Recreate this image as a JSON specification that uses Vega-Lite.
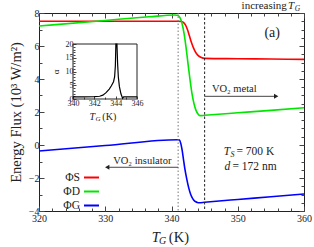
{
"$schema": "https://vega.github.io/schema/vega-lite/v6.json",
"width": 265, "height": 198,
"autosize": "none",
"padding": {"left": 39, "top": 13, "right": 10, "bottom": 36},
"config": {
  "font": "Liberation Serif",
  "view": {"stroke": "#222", "strokeWidth": 1},
  "axis": {"grid": false, "domain": false, "labelFont": "Liberation Serif", "titleFont": "Liberation Serif", "labelColor": "#222", "tickColor": "#444", "titleFontWeight": "normal", "titleColor": "#222", "labelOverlap": false, "labelBound": false, "labelFlush": false, "tickCount": 200, "format": "d"},
  "text": {"font": "Liberation Serif", "color": "#222"}
},
"datasets": {
  "flux": [
    {"T": 320, "F": 7.5, "s": "ΦS"}, {"T": 330, "F": 7.5, "s": "ΦS"}, {"T": 341, "F": 7.5, "s": "ΦS"}, {"T": 341.5, "F": 7.48, "s": "ΦS"}, {"T": 341.8, "F": 7.43, "s": "ΦS"}, {"T": 342.1, "F": 7.28, "s": "ΦS"}, {"T": 342.4, "F": 7.0, "s": "ΦS"}, {"T": 342.7, "F": 6.62, "s": "ΦS"}, {"T": 343.0, "F": 6.22, "s": "ΦS"}, {"T": 343.3, "F": 5.9, "s": "ΦS"}, {"T": 343.6, "F": 5.65, "s": "ΦS"}, {"T": 344.0, "F": 5.43, "s": "ΦS"}, {"T": 344.5, "F": 5.3, "s": "ΦS"}, {"T": 345, "F": 5.25, "s": "ΦS"}, {"T": 350, "F": 5.23, "s": "ΦS"}, {"T": 355, "F": 5.21, "s": "ΦS"}, {"T": 360, "F": 5.19, "s": "ΦS"},
    {"T": 320, "F": 7.21, "s": "ΦD"}, {"T": 330, "F": 7.55, "s": "ΦD"}, {"T": 336.6, "F": 7.77, "s": "ΦD"}, {"T": 340.5, "F": 7.88, "s": "ΦD"}, {"T": 341.0, "F": 7.85, "s": "ΦD"}, {"T": 341.3, "F": 7.7, "s": "ΦD"}, {"T": 341.6, "F": 7.35, "s": "ΦD"}, {"T": 341.9, "F": 6.75, "s": "ΦD"}, {"T": 342.2, "F": 5.9, "s": "ΦD"}, {"T": 342.5, "F": 4.9, "s": "ΦD"}, {"T": 342.8, "F": 3.95, "s": "ΦD"}, {"T": 343.1, "F": 3.1, "s": "ΦD"}, {"T": 343.4, "F": 2.5, "s": "ΦD"}, {"T": 343.7, "F": 2.1, "s": "ΦD"}, {"T": 344.0, "F": 1.88, "s": "ΦD"}, {"T": 344.3, "F": 1.78, "s": "ΦD"}, {"T": 345, "F": 1.8, "s": "ΦD"}, {"T": 350, "F": 1.95, "s": "ΦD"}, {"T": 355, "F": 2.1, "s": "ΦD"}, {"T": 360, "F": 2.26, "s": "ΦD"},
    {"T": 320, "F": -0.36, "s": "ΦG"}, {"T": 330, "F": -0.03, "s": "ΦG"}, {"T": 341, "F": 0.32, "s": "ΦG"}, {"T": 341.2, "F": 0.3, "s": "ΦG"}, {"T": 341.4, "F": 0.1, "s": "ΦG"}, {"T": 341.6, "F": -0.3, "s": "ΦG"}, {"T": 341.8, "F": -0.85, "s": "ΦG"}, {"T": 342.0, "F": -1.4, "s": "ΦG"}, {"T": 342.3, "F": -2.05, "s": "ΦG"}, {"T": 342.6, "F": -2.6, "s": "ΦG"}, {"T": 342.9, "F": -3.0, "s": "ΦG"}, {"T": 343.2, "F": -3.25, "s": "ΦG"}, {"T": 343.5, "F": -3.4, "s": "ΦG"}, {"T": 343.9, "F": -3.48, "s": "ΦG"}, {"T": 344.2, "F": -3.5, "s": "ΦG"}, {"T": 345, "F": -3.47, "s": "ΦG"}, {"T": 350, "F": -3.3, "s": "ΦG"}, {"T": 355, "F": -3.14, "s": "ΦG"}, {"T": 360, "F": -2.97, "s": "ΦG"}
  ],
  "alpha": [
    {"T": 340, "a": 0.8}, {"T": 341, "a": 0.8}, {"T": 342, "a": 0.85}, {"T": 342.5, "a": 1.0}, {"T": 342.8, "a": 1.4}, {"T": 343.1, "a": 2.3}, {"T": 343.4, "a": 3.6}, {"T": 343.6, "a": 4.8}, {"T": 343.8, "a": 6.3}, {"T": 343.9, "a": 8}, {"T": 343.97, "a": 12}, {"T": 344.02, "a": 20}, {"T": 344.12, "a": 20}, {"T": 344.18, "a": 13}, {"T": 344.25, "a": 8}, {"T": 344.35, "a": 4.5}, {"T": 344.5, "a": 1.8}, {"T": 344.65, "a": 0.3}, {"T": 344.75, "a": 0.8}, {"T": 346, "a": 0.8}
  ]
},
"layer": [
  {
    "layer": [
      {
        "data": {"name": "flux"},
        "mark": {"type": "line", "strokeWidth": 1.6, "interpolate": "monotone"},
        "encoding": {
          "x": {"field": "T", "type": "quantitative", "scale": {"domain": [320, 360], "nice": false, "zero": false},
                "axis": {"orient": "bottom", "title": null, "format": "d", "tickCount": 200, "labelOverlap": false, "labelFlush": false, "values": [320,322,324,326,328,330,332,334,336,338,340,342,344,346,348,350,352,354,356,358,360],
                         "labelExpr": "datum.value % 10 == 0 ? datum.label : ''", "labelFontSize": 10, "labelPadding": 7,
                         "tickSize": {"condition": {"test": "datum.value % 10 == 0", "value": -5}, "value": -3}}},
          "y": {"field": "F", "type": "quantitative", "scale": {"domain": [-4, 8], "nice": false, "zero": false},
                "axis": {"orient": "left", "title": "Energy Flux (10³ W/m²)", "titleFontSize": 14.5, "titlePadding": 5, "format": "d", "tickCount": 200, "labelOverlap": false, "labelFlush": false,
                         "values": [-4,-3.5,-3,-2.5,-2,-1.5,-1,-0.5,0,0.5,1,1.5,2,2.5,3,3.5,4,4.5,5,5.5,6,6.5,7,7.5,8],
                         "labelExpr": "datum.value % 2 == 0 ? datum.label : ''", "labelFontSize": 10, "labelPadding": 5,
                         "tickSize": {"condition": {"test": "datum.value % 2 == 0", "value": -5}, "value": -3}}},
          "color": {"field": "s", "type": "nominal", "scale": {"domain": ["ΦS", "ΦD", "ΦG"], "range": ["#ff0000", "#00e600", "#0000ff"]},
                    "legend": {"title": null, "orient": "none", "legendX": 44, "legendY": 156, "symbolType": "stroke", "symbolSize": 225, "symbolStrokeWidth": 2,
                               "labelAlign": "right", "labelOffset": -20, "labelFontSize": 11.5, "labelFont": "Liberation Serif", "labelColor": "#222", "rowPadding": -4.6, "padding": 0}}
        }
      },
      {"data": {"values": [{}]}, "mark": {"type": "rule", "color": "#777", "strokeDash": [1.5, 2], "strokeWidth": 1}, "encoding": {"x": {"datum": 341, "type": "quantitative"}}},
      {"data": {"values": [{}]}, "mark": {"type": "rule", "color": "#222", "strokeDash": [2.5, 2], "strokeWidth": 1}, "encoding": {"x": {"datum": 345, "type": "quantitative"}}},
      {"data": {"values": [{}]}, "mark": {"type": "rule", "color": "#444", "strokeWidth": 1}, "encoding": {"x": {"datum": 345, "type": "quantitative"}, "x2": {"datum": 355.7}, "y": {"datum": 2.95, "type": "quantitative"}}},
      {"data": {"values": [{}]}, "mark": {"type": "point", "shape": "triangle-right", "filled": true, "color": "#222", "size": 25, "opacity": 1}, "encoding": {"x": {"datum": 355.8, "type": "quantitative"}, "y": {"datum": 2.95, "type": "quantitative"}}},
      {"data": {"values": [{}]}, "mark": {"type": "rule", "color": "#444", "strokeWidth": 1}, "encoding": {"x": {"datum": 330.4, "type": "quantitative"}, "x2": {"datum": 341}, "y": {"datum": -1.35, "type": "quantitative"}}},
      {"data": {"values": [{}]}, "mark": {"type": "point", "shape": "triangle-left", "filled": true, "color": "#222", "size": 25, "opacity": 1}, "encoding": {"x": {"datum": 330.3, "type": "quantitative"}, "y": {"datum": -1.35, "type": "quantitative"}}},
      {"data": {"values": [{}]}, "mark": {"type": "text", "text": "VO₂ metal", "fontSize": 10.5, "align": "left"}, "encoding": {"x": {"datum": 346.1, "type": "quantitative"}, "y": {"datum": 3.4, "type": "quantitative"}}},
      {"data": {"values": [{}]}, "mark": {"type": "text", "text": "VO₂ insulator", "fontSize": 10.5, "align": "left"}, "encoding": {"x": {"datum": 331.2, "type": "quantitative"}, "y": {"datum": -0.95, "type": "quantitative"}}},
      {"data": {"values": [{}]}, "mark": {"type": "text", "text": "(a)", "fontSize": 14, "align": "center"}, "encoding": {"x": {"datum": 355.2, "type": "quantitative"}, "y": {"datum": 6.8, "type": "quantitative"}}},
      {"data": {"values": [{}]}, "mark": {"type": "text", "text": "T", "fontSize": 11.5, "fontStyle": "italic", "align": "left"}, "encoding": {"x": {"datum": 347.9, "type": "quantitative"}, "y": {"datum": -0.42, "type": "quantitative"}}},
      {"data": {"values": [{}]}, "mark": {"type": "text", "text": "S", "fontSize": 8, "fontStyle": "italic", "align": "left", "dy": 3}, "encoding": {"x": {"datum": 348.9, "type": "quantitative"}, "y": {"datum": -0.42, "type": "quantitative"}}},
      {"data": {"values": [{}]}, "mark": {"type": "text", "text": "= 700 K", "fontSize": 11.5, "align": "left"}, "encoding": {"x": {"datum": 349.8, "type": "quantitative"}, "y": {"datum": -0.42, "type": "quantitative"}}},
      {"data": {"values": [{}]}, "mark": {"type": "text", "text": "d", "fontSize": 11.5, "fontStyle": "italic", "align": "left"}, "encoding": {"x": {"datum": 348.0, "type": "quantitative"}, "y": {"datum": -1.33, "type": "quantitative"}}},
      {"data": {"values": [{}]}, "mark": {"type": "text", "text": "= 172 nm", "fontSize": 11.5, "align": "left"}, "encoding": {"x": {"datum": 349.2, "type": "quantitative"}, "y": {"datum": -1.33, "type": "quantitative"}}},
      {"data": {"values": [{}]}, "mark": {"type": "text", "text": "increasing", "fontSize": 11, "align": "right", "dy": -7.5}, "encoding": {"x": {"datum": 357.4, "type": "quantitative"}, "y": {"datum": 8, "type": "quantitative"}}},
      {"data": {"values": [{}]}, "mark": {"type": "text", "text": "T", "fontSize": 11, "fontStyle": "italic", "align": "left", "dy": -7.5}, "encoding": {"x": {"datum": 357.6, "type": "quantitative"}, "y": {"datum": 8, "type": "quantitative"}}},
      {"data": {"values": [{}]}, "mark": {"type": "text", "text": "G", "fontSize": 7.5, "fontStyle": "italic", "align": "left", "dy": -4.5}, "encoding": {"x": {"datum": 358.6, "type": "quantitative"}, "y": {"datum": 8, "type": "quantitative"}}},
      {"data": {"values": [{}]}, "mark": {"type": "text", "text": "T", "fontSize": 14.5, "fontStyle": "italic", "align": "left", "dy": 27}, "encoding": {"x": {"datum": 337.0, "type": "quantitative"}, "y": {"datum": -4, "type": "quantitative"}}},
      {"data": {"values": [{}]}, "mark": {"type": "text", "text": "G", "fontSize": 10, "fontStyle": "italic", "align": "left", "dy": 30}, "encoding": {"x": {"datum": 338.1, "type": "quantitative"}, "y": {"datum": -4, "type": "quantitative"}}},
      {"data": {"values": [{}]}, "mark": {"type": "text", "text": "(K)", "fontSize": 14.5, "align": "left", "dy": 27}, "encoding": {"x": {"datum": 339.6, "type": "quantitative"}, "y": {"datum": -4, "type": "quantitative"}}}
    ]
  },
  {
    "layer": [
      {"data": {"values": [{}]}, "mark": {"type": "rect", "fill": "white", "fillOpacity": 0, "stroke": "#222", "strokeWidth": 1},
       "encoding": {"x": {"datum": 340, "type": "quantitative", "scale": {"domain": [340, 346], "nice": false, "zero": false, "range": [34, 98]}}, "x2": {"datum": 346},
                    "y": {"datum": 0, "type": "quantitative", "scale": {"domain": [0, 20], "nice": false, "zero": false, "range": [86, 31]}}, "y2": {"datum": 20}}},
      {
        "data": {"name": "alpha"},
        "mark": {"type": "line", "color": "black", "strokeWidth": 1.2},
        "encoding": {
          "x": {"field": "T", "type": "quantitative", "scale": {"domain": [340, 346], "nice": false, "zero": false, "range": [34, 98]},
                "axis": {"orient": "bottom", "offset": -112, "title": null, "format": "d", "tickCount": 200, "labelOverlap": false, "labelFlush": false, "values": [340,340.5,341,341.5,342,342.5,343,343.5,344,344.5,345,345.5,346],
                         "labelExpr": "datum.value % 2 == 0 ? datum.label : ''", "labelFontSize": 8, "labelPadding": 3,
                         "tickSize": {"condition": {"test": "datum.value % 2 == 0", "value": -3}, "value": -2}}},
          "y": {"field": "a", "type": "quantitative", "scale": {"domain": [0, 20], "nice": false, "zero": false, "range": [86, 31]},
                "axis": {"orient": "left", "offset": -34, "title": "α", "titleFontSize": 9, "titlePadding": 5, "format": "d", "tickCount": 200, "labelOverlap": false, "labelFlush": false,
                         "values": [0,1,2,3,4,5,6,7,8,9,10,11,12,13,14,15,16,17,18,19,20],
                         "labelExpr": "datum.value % 5 == 0 ? datum.label : ''", "labelFontSize": 8, "labelPadding": 3,
                         "tickSize": {"condition": {"test": "datum.value % 5 == 0", "value": -3}, "value": -2}}}
        }
      },
      {"data": {"values": [{}]}, "mark": {"type": "text", "text": "T", "fontSize": 10, "fontStyle": "italic", "align": "left", "dy": 18}, "encoding": {"x": {"datum": 341.55, "type": "quantitative"}, "y": {"datum": 0, "type": "quantitative"}}},
      {"data": {"values": [{}]}, "mark": {"type": "text", "text": "G", "fontSize": 7, "fontStyle": "italic", "align": "left", "dy": 20}, "encoding": {"x": {"datum": 342.1, "type": "quantitative"}, "y": {"datum": 0, "type": "quantitative"}}},
      {"data": {"values": [{}]}, "mark": {"type": "text", "text": "(K)", "fontSize": 10, "align": "left", "dy": 18}, "encoding": {"x": {"datum": 342.75, "type": "quantitative"}, "y": {"datum": 0, "type": "quantitative"}}}
    ]
  },
  {
    "data": {"values": [{}]},
    "mark": {"type": "point", "opacity": 0},
    "encoding": {
      "x": {"datum": 320, "type": "quantitative", "scale": {"domain": [320, 360], "nice": false, "zero": false},
            "axis": {"orient": "top", "title": null, "labels": false, "tickCount": 200, "values": [320,322,324,326,328,330,332,334,336,338,340,342,344,346,348,350,352,354,356,358,360],
                     "tickSize": {"condition": {"test": "datum.value % 10 == 0", "value": -5}, "value": -3}}},
      "y": {"datum": -4, "type": "quantitative", "scale": {"domain": [-4, 8], "nice": false, "zero": false},
            "axis": {"orient": "right", "title": null, "labels": false, "tickCount": 200, "values": [-4,-3.5,-3,-2.5,-2,-1.5,-1,-0.5,0,0.5,1,1.5,2,2.5,3,3.5,4,4.5,5,5.5,6,6.5,7,7.5,8],
                     "tickSize": {"condition": {"test": "datum.value % 2 == 0", "value": -5}, "value": -3}}}
    }
  }
],
"resolve": {"scale": {"x": "independent", "y": "independent"}, "axis": {"x": "independent", "y": "independent"}}
}
